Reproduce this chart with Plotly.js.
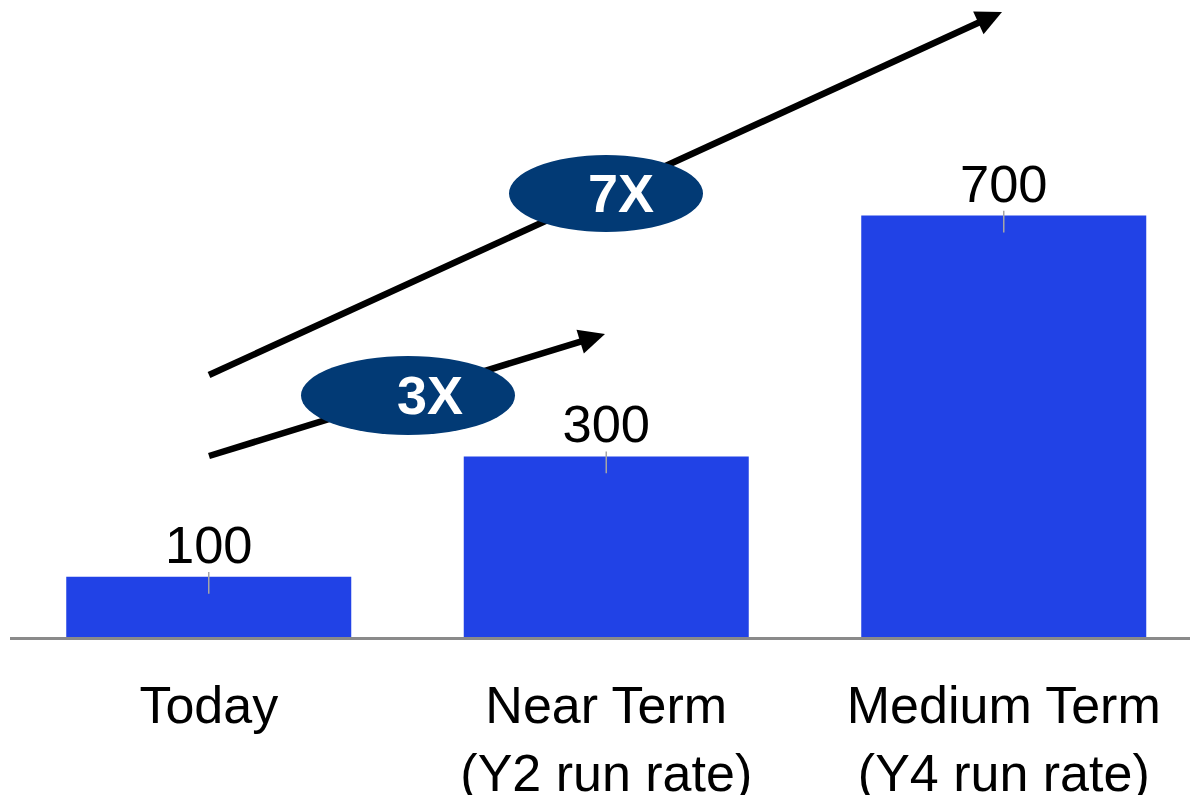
<!DOCTYPE html>
<html>
<head>
<meta charset="utf-8">
<script src="https://cdn.plot.ly/plotly-3.0.1.min.js"></script>
<style>
  html, body { margin: 0; padding: 0; background: #ffffff; }
  #chart { width: 1190px; height: 795px; }
</style>
</head>
<body>
<div id="chart"></div>
<script>
// Run-rate growth: today vs near term vs medium term
const categories = ['Today', 'Near Term<br>(Y2 run rate)', 'Medium Term<br>(Y4 run rate)'];
const values = [100, 300, 700];
const multiples = ['3X', '7X'];

// Plot frame (pixels) and axis ranges
const W = 1190, H = 795;
const M = { l: 10, r: 0, t: 0, b: 158 };
const PW = W - M.l - M.r, PH = H - M.t - M.b;
const XR = [-0.5, -0.5 + PW / 397.5];
const YR = [0, 1058];

// pixel -> data helpers for the decorative overlays
const px2x = px => XR[0] + (px - M.l) / PW * (XR[1] - XR[0]);
const py2y = py => YR[0] + (M.t + PH - py) / PH * (YR[1] - YR[0]);

const FONT = 'Liberation Sans, Arial, sans-serif';
const NAVY = '#023a75';

// Arrow: straight shaft plus a triangular head, both as shapes so that the
// ellipse badges can sit on top of them.
function arrowShapes(tail, tip, width, headLen, headHalf) {
  const dx = tip[0] - tail[0], dy = tip[1] - tail[1];
  const len = Math.hypot(dx, dy);
  const ux = dx / len, uy = dy / len;
  const nx = -uy, ny = ux;
  const bx = tip[0] - ux * headLen, by = tip[1] - uy * headLen;
  const c1 = [bx + nx * headHalf, by + ny * headHalf];
  const c2 = [bx - nx * headHalf, by - ny * headHalf];
  const shaftEnd = [tip[0] - ux * (headLen - 3), tip[1] - uy * (headLen - 3)];
  return [
    {
      type: 'line', xref: 'x', yref: 'y', layer: 'above',
      x0: px2x(tail[0]), y0: py2y(tail[1]),
      x1: px2x(shaftEnd[0]), y1: py2y(shaftEnd[1]),
      line: { color: '#000000', width: width }
    },
    {
      type: 'path', xref: 'x', yref: 'y', layer: 'above',
      path: 'M' + px2x(tip[0]) + ',' + py2y(tip[1]) +
            ' L' + px2x(c1[0]) + ',' + py2y(c1[1]) +
            ' L' + px2x(c2[0]) + ',' + py2y(c2[1]) + ' Z',
      fillcolor: '#000000', line: { width: 0 }
    }
  ];
}

function ellipse(x0, x1, y0, y1) {
  return {
    type: 'circle', xref: 'x', yref: 'y', layer: 'above',
    x0: px2x(x0), x1: px2x(x1), y0: py2y(y1), y1: py2y(y0),
    fillcolor: NAVY, line: { width: 0 }
  };
}

const shapes = []
  .concat(arrowShapes([209, 375], [1002, 12], 6.5, 26, 12.5))
  .concat(arrowShapes([209, 456], [605, 334], 6.5, 26, 12.5))
  .concat([
    ellipse(509, 703, 155, 232),
    ellipse(301, 515, 356, 435)
  ]);

const badgeLabels = [
  { text: multiples[1], x: px2x(621), y: py2y(193) },
  { text: multiples[0], x: px2x(430), y: py2y(395) }
].map(b => ({
  xref: 'x', yref: 'y', x: b.x, y: b.y,
  text: '<b>' + b.text + '</b>', showarrow: false,
  xanchor: 'center', yanchor: 'middle',
  font: { family: FONT, size: 54, color: '#ffffff' }
}));

const trace = {
  type: 'bar',
  x: categories,
  y: values,
  marker: { color: '#2142e6', line: { width: 0 } },
  text: values.map(String),
  textposition: 'outside',
  textfont: { family: FONT, size: 52.5, color: '#000000' },
  cliponaxis: false,
  error_y: {
    type: 'data', symmetric: false,
    array: values.map(() => 8), arrayminus: values.map(() => 28),
    color: '#a5a5a5', thickness: 1.5, width: 0
  },
  hoverinfo: 'none'
};

const layout = {
  width: W, height: H,
  margin: M,
  paper_bgcolor: '#ffffff',
  plot_bgcolor: '#ffffff',
  showlegend: false,
  bargap: 0.283,
  xaxis: {
    type: 'category',
    range: XR,
    showgrid: false, zeroline: false,
    showline: true, linecolor: '#8a8a8a', linewidth: 3,
    ticks: '', ticklabelstandoff: 21,
    tickfont: { family: FONT, size: 52, color: '#000000' },
    fixedrange: true
  },
  yaxis: {
    range: YR, visible: false, showgrid: false, zeroline: false,
    fixedrange: true
  },
  shapes: shapes,
  annotations: badgeLabels
};

Plotly.newPlot('chart', [trace], layout, { staticPlot: true, displayModeBar: false });
</script>
</body>
</html>
